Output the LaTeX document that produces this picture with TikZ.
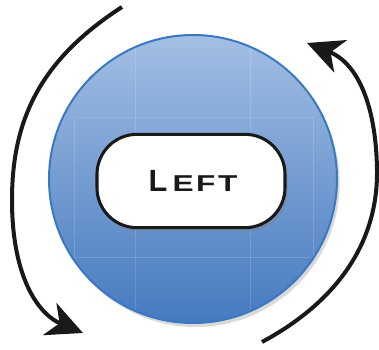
\documentclass[tikz,border=0pt]{standalone}
\usepackage{fontspec}
\newfontfamily\capsfont[LetterSpace=8]{Liberation Sans Bold}
\usetikzlibrary{arrows.meta,shadows,positioning}
\definecolor{wheeltop}{RGB}{163,191,228}
\definecolor{wheelbot}{RGB}{70,122,192}
\definecolor{wheelrim}{RGB}{58,120,194}

\begin{document}
\begin{tikzpicture}[x=0.75pt, y=-0.75pt,
    wheel/.style={circle, draw=wheelrim, line width=1.5pt, minimum size=216pt,
      top color=wheeltop, bottom color=wheelbot,
      drop shadow={opacity=0.3, shadow xshift=2pt, shadow yshift=-3pt}},
    pill/.style={draw=black!90, line width=2.3pt, fill=white, rounded corners=30pt,
      minimum width=141pt, minimum height=70pt,
      drop shadow={opacity=0.35, shadow xshift=2pt, shadow yshift=-3pt}},
    guide/.style={white, opacity=0.15, line width=0.5pt},
    turn/.style={line width=3pt, black!90, -{Stealth[length=27pt, width=26pt, inset=8pt]}}]
  \useasboundingbox (0,0) rectangle (379,350);
  % blue disc
  \node[wheel] (wheel) at (193,179) {};
  % faint guide lines on the disc
  \begin{scope}
    \clip (193,179) circle[radius=143];
    \draw[guide] (135,0) -- (135,350);
    \draw[guide] (250,0) -- (250,350);
    \draw[guide] (74,117) rectangle (313,257);
  \end{scope}
  % label
  \node[pill, text=black!90] (left) at (191,181)
    {\hspace{3pt}\capsfont{\fontsize{23}{24}\selectfont L}\hspace{4pt}%
     \scalebox{1.38}[1]{\capsfont\fontsize{17.2}{18}\selectfont EFT}};
  % left arrow, turning down
  \coordinate (ltail) at (122,7);
  \coordinate (lhead) at (83,333);
  \draw[turn] (ltail) .. controls (40,60) and (12,120) .. (12,200)
    .. controls (12,280) and (40,315) .. (lhead);
  % right arrow, turning up
  \coordinate (rtail) at (262,342);
  \coordinate (rhead) at (307,43);
  \draw[turn] (rtail) .. controls (340,300) and (378,240) .. (377,170)
    .. controls (376,100) and (355,62) .. (rhead);
\end{tikzpicture}
\end{document}
